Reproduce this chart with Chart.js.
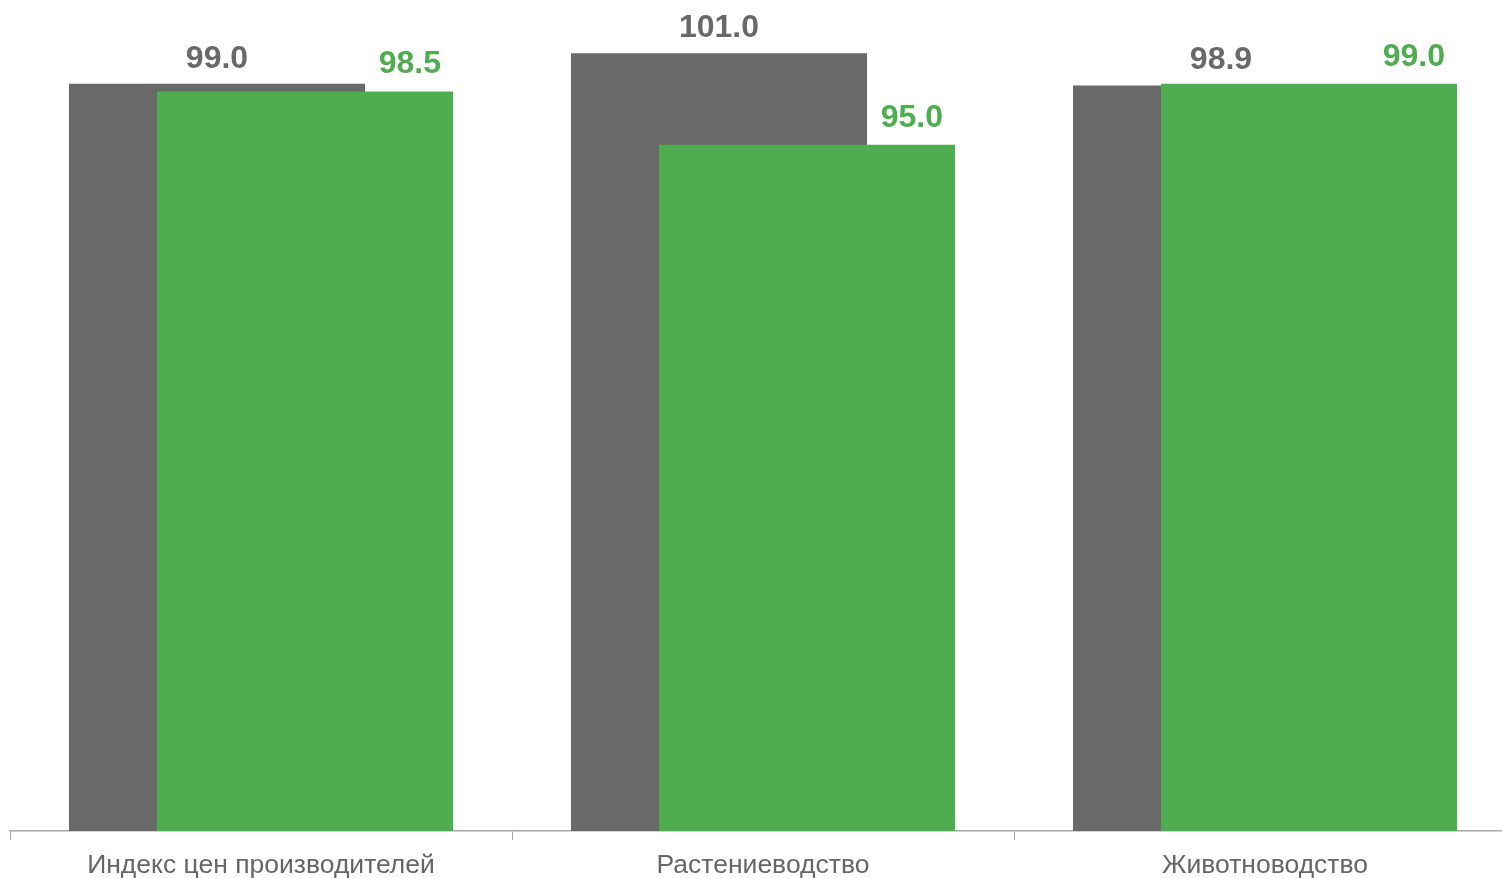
<!DOCTYPE html>
<html>
<head>
<meta charset="utf-8">
<script src="https://cdn.jsdelivr.net/npm/chart.js@4"></script>
<style>
  html, body { margin: 0; padding: 0; background: #fff; overflow: hidden; }
  #wrap { width: 1516px; height: 878px; }
</style>
</head>
<body>
<div id="wrap"><canvas id="chart"></canvas></div>
<script>
// данные
const categories = ['Индекс цен производителей', 'Растениеводство', 'Животноводство'];
const greyValues = [99.0, 101.0, 98.9];
const greenValues = [98.5, 95.0, 99.0];

const GREY = '#696969';
const GREEN = '#4EAD4F';

// рисуем наборы по порядку: серый снизу, зелёный сверху
const drawOrder = {
    id: 'drawOrder',
    beforeDatasetsDraw(chart) {
        const a = chart.chartArea;
        const ctx = chart.ctx;
        ctx.save();
        ctx.beginPath();
        ctx.rect(a.left, a.top - 100, a.right - a.left, a.bottom - a.top + 100);
        ctx.clip();
        chart.data.datasets.forEach((ds, i) => chart.getDatasetMeta(i).controller.draw());
        ctx.restore();
        return false;
    }
};

// подписи значений
const valueLabels = {
    id: 'valueLabels',
    afterDraw(chart) {
        const ctx = chart.ctx;
        ctx.save();
        ctx.font = 'bold 32px "Liberation Sans", Arial, sans-serif';
        ctx.textBaseline = 'alphabetic';
        chart.data.datasets.forEach((ds, i) => {
            const meta = chart.getDatasetMeta(i);
            meta.data.forEach((bar, j) => {
                const txt = ds.data[j].toFixed(1);
                ctx.fillStyle = ds.backgroundColor;
                if (i === 0) {
                    ctx.textAlign = 'center';
                    ctx.fillText(txt, bar.x, bar.y - 16);
                } else {
                    ctx.textAlign = 'right';
                    ctx.fillText(txt, bar.x + bar.width / 2 - 12, bar.y - 18);
                }
            });
        });
        ctx.restore();
    }
};

new Chart(document.getElementById('chart'), {
    type: 'bar',
    data: {
        labels: categories,
        datasets: [
            { data: greyValues, backgroundColor: GREY },
            { data: greenValues, backgroundColor: GREEN }
        ]
    },
    options: {
        responsive: true,
        maintainAspectRatio: false,
        animation: false,
        categoryPercentage: 0.3506,
        barPercentage: 3.364,
        layout: { padding: { left: 10, right: 0, top: 0, bottom: 0 } },
        plugins: {
            legend: { display: false },
            tooltip: { enabled: false }
        },
        scales: {
            x: {
                grid: {
                    offset: true,
                    drawOnChartArea: false,
                    drawTicks: true,
                    tickLength: 9,
                    color: '#a6a6a6'
                },
                border: { color: '#a6a6a6', width: 1.5 },
                ticks: {
                    color: '#666666',
                    padding: 10,
                    maxRotation: 0,
                    autoSkip: false,
                    font: { family: '"Liberation Sans", Arial, sans-serif', size: 26.5 }
                },
                afterFit(scale) { scale.height = 47; }
            },
            y: {
                display: false,
                min: 50,
                max: 104.5
            }
        }
    },
    plugins: [drawOrder, valueLabels]
});
</script>
</body>
</html>
